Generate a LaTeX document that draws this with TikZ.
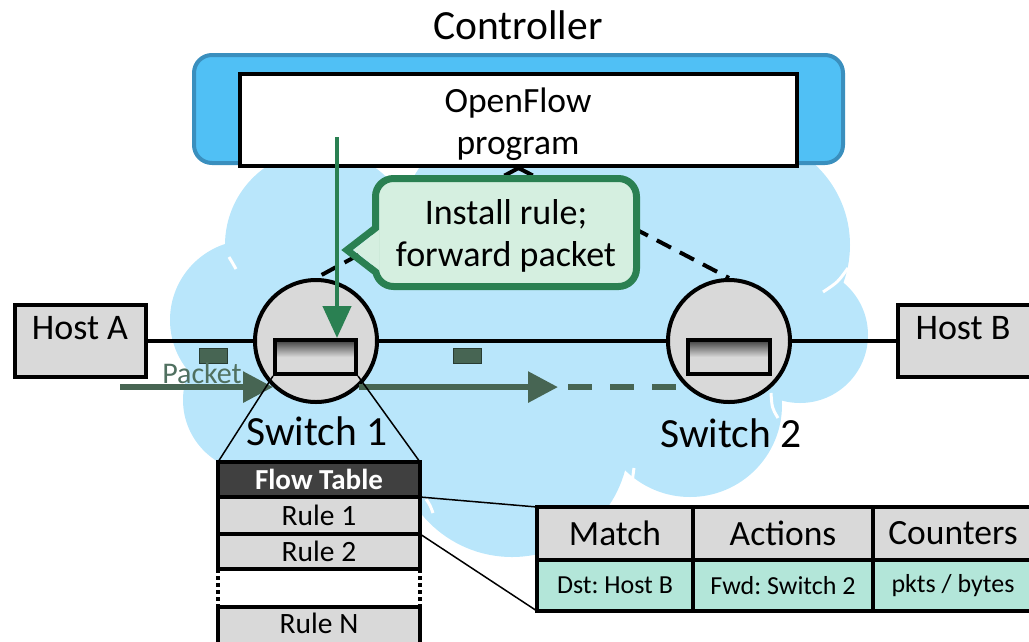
\documentclass[tikz,border=0pt]{standalone}
\usepackage{fontspec}
\setmainfont{Carlito}
\frenchspacing
\usetikzlibrary{arrows.meta}

\definecolor{cloudblue}{RGB}{185,230,251}
\definecolor{ctlfill}{RGB}{80,192,245}
\definecolor{ctlborder}{RGB}{58,143,190}
\definecolor{boxgray}{RGB}{217,217,217}
\definecolor{shadedark}{RGB}{60,60,60}
\definecolor{ofgreen}{RGB}{42,128,82}
\definecolor{calloutfill}{RGB}{213,239,224}
\definecolor{pktgreen}{RGB}{71,101,83}
\definecolor{pktdark}{RGB}{40,60,50}
\definecolor{pkttext}{RGB}{80,112,96}
\definecolor{headdark}{RGB}{64,64,64}
\definecolor{mint}{RGB}{179,230,217}

\begin{document}
\begin{tikzpicture}[x=1pt,y=-1pt,
  every node/.style={inner sep=0pt},
  fs41/.style={font=\fontsize{41.5}{48}\selectfont},
  fs36/.style={font=\fontsize{36}{42}\selectfont},
  fs35/.style={font=\fontsize{35.5}{42}\selectfont},
  fs30/.style={font=\fontsize{30}{35}\selectfont},
  fs29/.style={font=\fontsize{29.5}{34}\selectfont},
  fs26/.style={font=\fontsize{26}{31}\selectfont},
  cloudarc/.style={draw=white, line width=3pt},
  hostbox/.style={draw=black, line width=4pt, fill=boxgray, minimum height=72pt},
  switchnode/.style={circle, draw=black, line width=4pt, fill=boxgray, minimum size=122pt},
  rulebox/.style={draw=black, line width=4pt, minimum width=82pt, minimum height=34pt,
    top color=shadedark, bottom color=boxgray, middle color=boxgray},
  link/.style={draw=black, line width=3.5pt},
  ctrllink/.style={draw=black, line width=4pt, dash pattern=on 16pt off 10pt},
  pktflow/.style={draw=pktgreen, line width=6pt, -{Triangle[length=30pt,width=30pt]}},
  pkt/.style={draw=pktdark, fill=pktgreen, line width=1pt, minimum width=28pt, minimum height=15pt},
  ftrow/.style={draw=black, line width=4pt, fill=boxgray, minimum width=202pt, outer sep=0pt, fs29},
  cell/.style={draw=black, line width=4pt, outer sep=0pt},
  zoomline/.style={draw=black, line width=1.5pt},
]
\useasboundingbox (0,0) rectangle (1029,641);

% network cloud
\fill[cloudblue]
  (320,245) circle[radius=95]
  (510,230) circle[radius=110]
  (600,235) circle[radius=115]
  (740,245) circle[radius=110]
  (250,320) circle[radius=80]
  (800,335) circle[radius=68]
  (255,400) circle[radius=72]
  (350,440) circle[radius=90]
  (512,440) circle[radius=117]
  (690,405) circle[radius=92]
  (520,330) ellipse[x radius=250, y radius=130];
\draw[cloudarc] (229,257) .. controls (232,262) .. (236,269);
\draw[cloudarc] (848,268) .. controls (838,282) .. (823,292);
\draw[cloudarc] (778,418) .. controls (772,408) .. (771,393);
\draw[cloudarc] (634,493) .. controls (632,482) .. (634,468);
\draw[cloudarc] (426,499) .. controls (430,505) .. (433,513);

% controller
\node[draw=ctlborder, fill=ctlfill, line width=4pt, rounded corners=18pt,
      minimum width=649pt, minimum height=108pt] (ctl) at (518.5,109) {};
\node[draw=black, fill=white, line width=4pt, minimum width=557pt,
      minimum height=92pt] (prog) at (518.5,120) {};
\node[fs35, align=center] (progtxt) at (518,124) {OpenFlow\\program};
\node[fs41] (ctltitle) at (518,25) {Controller};

% hosts and switches
\node[hostbox, minimum width=131pt] (hostA) at (80.5,341) {};
\node[fs36] (hostAlbl) at (80,328) {Host A};
\node[hostbox, minimum width=142pt] (hostB) at (969,341) {};
\node[fs36] (hostBlbl) at (963,328) {Host B};

\node[switchnode] (sw1) at (316,341) {};
\node[rulebox, minimum width=81pt] (sw1rule) at (315.5,357) {};
\node[switchnode] (sw2) at (729,341) {};
\node[rulebox] (sw2rule) at (729,357) {};
\node[fs41] (sw1lbl) at (317,431) {Switch 1};
\node[fs41] (sw2lbl) at (731,433) {Switch 2};

\draw[link] (hostA.east) -- (sw1.west);
\draw[link] (sw1.east) -- (sw2.west);
\draw[link] (sw2.east) -- (hostB.west);

% control channels
\draw[ctrllink] (prog.south) -- (sw1.north);
\draw[ctrllink] (prog.south) -- (sw2.north);

% callout
\node[draw=ofgreen, fill=calloutfill, line width=7pt, rounded corners=18pt,
      minimum width=261pt, minimum height=108pt] (callout) at (506,232.5) {};
\node[fs36, align=center] (callouttxt) at (506,236) {Install rule;\\forward packet};
\draw[draw=ofgreen, line width=7pt, line join=miter] (375.5,228) -- (347,250) -- (375.5,272);
\fill[calloutfill] (353.5,250) -- (379.5,229.5) -- (379.5,270.5) -- cycle;

% rule installation
\coordinate (installtop) at (337,137);
\draw[ofgreen, line width=4.5pt, -{Triangle[length=32pt,width=28pt]}]
  (installtop) -- (installtop |- sw1rule.north);

% packets
\node[pkt] (pkt1) at (213.5,356) {};
\node[pkt] (pkt2) at (467,356) {};
\node[fs30, text=pkttext] (pktlbl) at (202,373) {Packet};
\coordinate (pktsrc) at (120,387);
\coordinate (fwdtip) at (558,387);
\coordinate (dashstart) at (568,387);
\draw[pktflow] (pktsrc |- sw1.227) -- (sw1.227);
\draw[pktflow] (sw1.313) -- (sw1.313 -| fwdtip);
\draw[draw=pktgreen, line width=6pt, dash pattern=on 24pt off 18pt]
  (sw1.313 -| dashstart) -- (sw1.313 -| sw2.227);

% flow table
\node[ftrow, fill=headdark, text=white, font=\fontsize{29}{34}\selectfont\bfseries,
      minimum height=35pt] (fthead) at (319,479.5) {Flow Table};
\node[ftrow, minimum height=37pt] (rule1) at (319,515.5) {Rule 1};
\node[ftrow, minimum height=35pt] (rule2) at (319,551.5) {Rule 2};
\node[ftrow, minimum height=38pt] (ruleN) at (319,626) {};
\node[fs29] (ruleNlbl) at (319,623) {Rule N};
\draw[black, line width=4pt, dash pattern=on 4pt off 3pt]
  (rule2.south west) -- (ruleN.north west)
  (rule2.south east) -- (ruleN.north east);

\draw[zoomline] (sw1rule.south west) -- (fthead.north west);
\draw[zoomline] (sw1rule.south east) -- (fthead.north east);

% rule detail
\node[cell, fill=boxgray, minimum width=156pt, minimum height=53pt, fs35] (match) at (615,533.5) {Match};
\node[cell, fill=boxgray, minimum width=180pt, minimum height=53pt, fs35] (actions) at (783,533.5) {Actions};
\node[cell, fill=boxgray, minimum width=160pt, minimum height=53pt, fs35] (counters) at (953,533.5) {Counters};
\node[cell, fill=mint, minimum width=156pt, minimum height=51pt, fs26] (dst) at (615,585.5) {Dst: Host B};
\node[cell, fill=mint, minimum width=180pt, minimum height=51pt, fs26] (fwd) at (783,585.5) {Fwd: Switch 2};
\node[cell, fill=mint, minimum width=160pt, minimum height=51pt, fs26] (cnt) at (953,585.5) {pkts / bytes};

\draw[zoomline] (rule1.north east) -- (match.north west);
\draw[zoomline] (rule1.south east) -- (dst.south west);
\end{tikzpicture}
\end{document}
